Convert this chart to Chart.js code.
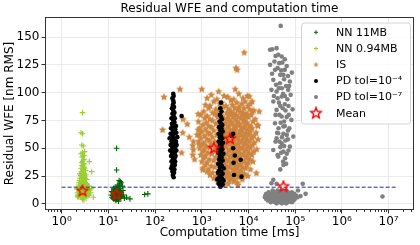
<!DOCTYPE html>
<html lang="en">
<head>
  <meta charset="UTF-8" />
  <title>Residual WFE and computation time</title>
  <script src="https://cdn.jsdelivr.net/npm/chart.js@4.4.0/dist/chart.umd.min.js"></script>
  <style>
    html, body { margin: 0; padding: 0; background: #fff; }
    #wrap { width: 420px; height: 245px; position: relative; }
  </style>
</head>
<body>
  <div id="wrap"><canvas id="myChart"></canvas></div>

  <script>
    // [computation time ms, residual WFE nm RMS]
    const nn11 = [
      [13,4.5],[14,4],[15,4.5],[16,4.2],[17,5],[12.5,5],[14,5.5],[15.5,5],[17,6],[18.5,5.5],
      [12,6],[13.5,6.5],[15,6.5],[16.5,7],[18,6.5],[19.5,7],[12.5,7.5],[14,8],[15.5,7.5],[17,8],
      [18.5,8],[13,9.5],[14.5,9.5],[16,10],[17.5,9.5],[19,10],[12.5,11],[14,11.5],[15.5,11],[17,12],
      [18.5,11.5],[13.5,13],[15,13.5],[16.5,13],[18,14],[14,15],[15.5,15.5],[17,16],[16,17],[17.5,18],
      [18,20],[17,21],[19,19],[15,30.5],[15,50],[21,8],[22,5],[24.5,6],[29,4.5],[60,8.5],
      [70,9],[20.5,12],[11.5,8],[13,14],[20,16],[11.8,11],[14.5,3],[16.5,2.5]
    ];
    const nnSmall = [
      [2.6,7],[2.9,6],[3.1,6.5],[2.5,6],[2.7,6],[3.0,6.5],[3.3,7],[2.4,7.5],[2.8,8],[3.1,8.5],
      [2.6,9.5],[2.9,10],[3.3,10],[2.5,11.5],[2.7,12],[3.0,12.5],[3.2,13],[2.3,13],[2.6,14],[2.8,14.5],
      [3.1,15],[3.5,13.5],[2.5,16],[2.7,16.5],[3.0,17],[2.9,18.5],[2.6,19],[3.2,19.5],[2.8,20.5],[3.0,21.5],
      [2.7,22.5],[2.9,23.5],[3.1,24.5],[2.6,25],[2.8,26],[3.0,27],[2.7,28],[2.9,29.5],[2.8,31],[3.0,33],
      [2.7,34.5],[2.9,36],[2.8,38],[3.0,40],[2.9,43],[2.8,46],[3.1,47],[2.7,53],[2.9,52],[2.6,64],
      [2.8,63],[2.8,82],[3.9,38],[4.4,29],[4.4,14],[4.75,6],[2.1,13.5],[4.0,13],[3.6,9],[2.2,8],
      [3.4,22],[3.6,17],[2.4,21],[3.3,26],[2.5,7.5],[3.4,7],[2.2,7],[3.8,7.5],[2.45,27],[3.25,30],
      [2.2,10],[3.6,12],[3.8,16],[2.3,17],[3.5,7],[2.25,6],[3.7,11],[2.35,15],[3.45,18],
      [2.35,9],[2.55,10.5],[2.75,9],[2.95,11.5],[3.2,11],[3.4,12],[2.45,14],[2.65,15.5],[2.95,15],[3.25,16],
      [2.35,19],[2.55,18],[2.85,17.5],[3.05,19],[2.45,23],[2.65,21],[2.95,21],[3.2,23],[2.55,25.5],[2.85,24],
      [3.05,25.5],[2.65,29],[2.95,27.5],[3.1,32],[2.6,32],[2.85,34],[3.0,36],[2.65,37],[2.9,39.5],[3.05,43.5],
      [2.75,42],[2.6,45],[4.2,10],[3.9,8],[2.3,7],[2.7,10.5],[2.8,4],[3.0,3.5]
    ];
    const isPts = [
      [2300,101],[5200,103],[1600,98],[3000,97],[6200,99],[9500,97],
      [1300,95],[2100,94],[3600,96],[4800,94],[7600,95],
      [1800,92],[2700,91],[4200,93],[5600,91],[8500,92],[11000,90],
      [1200,89],[1500,88],[2400,90],[3300,88],[4500,89],[6300,87],[7200,90],[9800,88],
      [1400,86],[2000,85],[2900,87],[3800,85],[5100,86],[5900,84],[8000,86],[10500,85],[13000,84],
      [1100,83],[1700,82],[2300,84],[3400,82],[4300,83],[4900,81],[6700,83],[7700,82],[9200,81],[12000,83],
      [950,80],[1300,79],[1900,81],[2600,80],[3700,79],[4100,81],[5400,80],[6100,78],[7300,80],[8700,79],[11500,80],
      [1150,77],[1500,76],[2200,78],[3000,77],[3500,76],[4600,78],[5200,76],[6900,77],[8200,76],[10000,78],[14000,76],
      [850,74],[1250,73],[1700,75],[2500,74],[3200,73],[3900,75],[4400,73],[5700,74],[6400,72],[7800,74],[9300,73],[12500,74],
      [1050,71],[1400,70],[2000,72],[2800,71],[3600,70],[4200,72],[5000,70],[6000,71],[7100,69],[8600,71],[10800,70],[15500,71],
      [900,68],[1200,67],[1600,69],[2300,68],[3100,67],[3800,69],[4700,67],[5400,68],[6600,66],[8000,68],[9600,67],[12000,68],
      [1000,65],[1350,64],[1800,66],[2600,65],[3300,64],[4000,66],[4500,64],[5200,65],[6200,63],[7300,65],[8900,64],[11000,65],[14500,64],
      [800,62],[1150,61],[1500,63],[2100,62],[2900,61],[3500,63],[4300,61],[4900,62],[5800,60],[6900,62],[8300,61],[10200,62],[13000,61],
      [950,59],[1300,58],[1700,60],[2400,59],[3200,58],[3700,60],[4600,58],[5500,59],[6400,57],[7700,59],[9300,58],[11800,59],[16000,58],
      [850,56],[1100,55],[1450,57],[1900,56],[2700,55],[3400,57],[4100,55],[5000,56],[6000,54],[7100,56],[8600,55],[10500,56],[13500,55],
      [1000,53],[1250,52],[1600,54],[2200,53],[3000,52],[3600,54],[4400,52],[5300,53],[6500,51],[7900,53],[9800,52],[12200,53],
      [900,50],[1150,49],[1500,51],[2000,50],[2800,49],[3300,51],[4200,49],[5100,50],[6100,48],[7400,50],[9000,49],[11000,50],[15000,49],
      [1050,47],[1350,46],[1800,48],[2500,47],[3100,46],[3800,48],[4700,46],[5700,47],[6800,45],[8200,47],[10200,46],[13000,47],
      [950,44],[1200,43],[1650,45],[2300,44],[2900,43],[3500,45],[4300,43],[5200,44],[6300,42],[7700,44],[9400,43],[11800,44],
      [1100,41],[1450,40],[2000,42],[2700,41],[3300,40],[4000,42],[4900,40],[5900,41],[7200,39],[8800,41],[10800,40],
      [1000,38],[1300,37],[1800,39],[2400,38],[3100,37],[3700,39],[4500,37],[5500,38],[6700,36],[8100,38],[10000,37],[12500,38],
      [1200,35],[1600,34],[2200,36],[2900,35],[3500,34],[4200,36],[5100,34],[6200,35],[7500,33],[9200,35],
      [1050,32],[1400,31],[1900,33],[2600,32],[3300,31],[4000,33],[4800,31],[5800,32],[7000,30],[8700,32],[11000,31],
      [1300,29],[1700,28],[2400,30],[3100,29],[3800,28],[4600,30],[5500,28],[6600,29],[8200,27],
      [1500,26],[2100,25],[2800,27],[3500,26],[4300,25],[5200,27],[6300,25],[7800,26],[9700,25],
      [1800,23],[2600,22],[3300,24],[4100,23],[5000,22],[6000,24],[7400,22],
      [2200,20],[3000,19],[3900,21],[4800,20],[5800,19],
      [2900,17],[3700,18],[6000,17],
      [8100,136],[5400,122],[5750,120.5],[340,103],[1000,103],[155,96],[145,66.5],[840,80.7],[400,76],[490,71.6],
      [390,64],[540,60],[660,56],[840,66.5],[880,62],[370,46],[640,52.4],[660,48.6],[640,44],[880,53.6],
      [2090,80],[10400,96.5],[17000,83],[14800,27.6],[1050,30.6],[700,40],[12000,92],[16000,70]
    ];
    const pdLoose = [
      [250,24],[240,26],[255,28],[235,29],[260,31],[245,32],[230,34],[265,35],[250,36],[225,38],
      [270,38],[240,40],[260,41],[220,43],[275,43],[245,44],[230,46],[265,46],[210,48],[285,48],
      [250,49],[235,51],[270,51],[215,53],[290,53],[255,54],[225,56],[280,56],[245,57],[205,59],
      [265,59],[300,60],[235,61],[215,63],[255,63],[285,64],[240,66],[270,67],[220,68],[250,70],
      [280,70],[230,72],[260,73],[245,75],[225,77],[265,77],[250,79],[235,81],[260,82],[245,84],
      [230,86],[255,87],[240,89],[250,91],[245,93],[235,95],[250,97],[245,99],[370,79],[255,74],
      [238,71],[252,65],[232,58],[262,50],[242,37],[222,32],
      [2580,91],[2500,86],[2650,83],[2450,80],[2600,78],[2700,76],[2400,74],[2550,72],[2750,71],[2350,69],
      [2650,68],[2500,66],[2800,65],[2300,63],[2600,62],[2450,60],[2750,59],[2550,57],[2300,56],[2850,55],
      [2450,53],[2650,52],[2350,50],[2750,49],[2550,47],[2250,46],[2900,45],[2450,43],[2650,42],[2350,40],
      [2800,39],[2550,37],[2250,36],[2700,34],[2450,33],[2950,32],[2350,30],[2600,29],[2200,28],[2800,27],
      [2500,25],[2350,24],[2700,23],[2150,22],[2950,21],[2450,20],[2650,19],[2300,18],[2800,17.5],[2550,16],
      [2500,15.5],[4700,63],[4700,50],[5100,43.5],[6800,39.6],[4900,26],[7100,24.5],[4400,61],[4800,37]
    ];
    const pdTight = [
      [33000,12],[42000,12],[52000,12],[65000,12],
      [27000,10.5],[36000,10.5],[46000,10.5],[57000,10.5],[70000,10.5],[85000,10.5],
      [24000,9],[30000,9],[39000,9],[50000,9],[62000,9],[76000,9],[95000,9],
      [23000,7.5],[28000,7.5],[34000,7.5],[43000,7.5],[55000,7.5],[68000,7.5],[83000,7.5],[105000,7.5],
      [22500,6],[26000,6],[31000,6],[38000,6],[48000,6],[60000,6],[73000,6],[90000,6],[112000,6],
      [24000,4.5],[29000,4.5],[35000,4.5],[44000,4.5],[53000,4.5],[65000,4.5],[80000,4.5],[98000,4.5],
      [26000,3],[32000,3],[40000,3],[50000,3],[61000,3],[75000,3],[92000,3],
      [30000,1.5],[37000,1.5],[46000,1.5],[57000,1.5],[70000,1.5],[85000,1.5],
      [40000,0.5],[52000,0.5],[64000,0.5],
      [34000,21.6],[31000,18.6],[40000,18],[145000,18],[167000,9],[7400000,6.6],[115000,12],[130000,7],
      [49000,160],[32300,139],[29000,138.5],[43500,134],[51500,132.5],[45600,126.5],[60000,130],[29000,125],
      [37000,120.5],[60000,120.5],[56000,116],[34000,111.5],[47000,108.5],[77000,110],[71000,102.5],[40000,101],
      [31000,102.5],[51500,96.5],[34000,92],[60000,89.5],[40000,84.5],[51500,78.5],[83000,75.5],[37000,72.5],
      [56000,69.5],[43500,63.5],[66000,62],[40000,59],[51500,54.5],[77000,51.5],[34000,48.5],[56000,47],
      [43500,42.5],[56000,35],[91000,60.5],[70000,115],[64000,106],[45000,104],[55000,99],[68000,94],
      [42000,95],[48000,88],[62000,84],[73000,80],[46000,80],[58000,74],[44000,68],[70000,66],
      [52000,60],[62000,57],[48000,51],[66000,45],[38000,56],[80000,98],[36000,128],[48000,116],
      [40000,140],[55000,38],
      [38000,133],[53000,127],[42000,122],[66000,124],[50000,120],[58000,112],[39000,107],[74000,106],
      [52000,104],[60000,97],[45000,91],[72000,88],[54000,86],[38000,80],[66000,78],[49000,73],
      [60000,70],[75000,68],[41000,64],[56000,63],[70000,58],[46000,56],[58000,52],[72000,48],
      [42000,44],[61000,41],[50000,46],[64000,36],[48000,31],[85000,118],[32000,117],[35000,97],[88000,85]
    ];
    const means = [[15,8.5],[2.8,11.5],[4000,58.5],[1820,50],[56000,15.6]];
    const thresholdWfe = 15;
    const thresholdTime = [1, 1.5e7];

    const xTickValues = [1, 10, 100, 1e3, 1e4, 1e5, 1e6, 1e7];
    const xTickLabels = ['10⁰', '10¹', '10²', '10³', '10⁴', '10⁵', '10⁶', '10⁷'];
    const yTickValues = [0, 25, 50, 75, 100, 125, 150];

    const FONT = 'DejaVu Sans';
    Chart.defaults.font.family = FONT;
    Chart.defaults.color = '#000';

    // star marker drawn into a small canvas
    function makeStar(size, outer, inner, fill, stroke, lw) {
      const c = document.createElement('canvas');
      c.width = size; c.height = size;
      const g = c.getContext('2d');
      g.beginPath();
      for (let i = 0; i < 10; i++) {
        const r = i % 2 ? inner : outer;
        const a = -Math.PI / 2 + i * Math.PI / 5;
        const px = size / 2 + r * Math.cos(a), py = size / 2 + r * Math.sin(a);
        i ? g.lineTo(px, py) : g.moveTo(px, py);
      }
      g.closePath();
      if (fill) { g.fillStyle = fill; g.fill(); }
      if (stroke) { g.strokeStyle = stroke; g.lineWidth = lw; g.stroke(); }
      return c;
    }
    const meanStar = makeStar(14, 5.6, 2.4, null, '#ff0000', 1.4);
    const isStar = makeStar(10, 4.0, 1.9, '#cd853f', null, 0);
    const isStarLegend = makeStar(7, 2.9, 1.2, '#cd853f', null, 0);

    const pts = (arr) => arr.map(([x, y]) => ({ x, y }));

    const data = {
      datasets: [
        { label: 'NN 11MB', data: pts(nn11), pointStyle: 'cross', pointRadius: 2.8,
          borderColor: '#006400', backgroundColor: '#006400', pointBorderWidth: 1.1, order: 6 },
        { label: 'NN 0.94MB', data: pts(nnSmall), pointStyle: 'cross', pointRadius: 2.8,
          borderColor: '#9acd32', backgroundColor: '#9acd32', pointBorderWidth: 1.1, order: 5 },
        { label: 'IS', data: pts(isPts), pointStyle: isStar, order: 4 },
        { label: 'PD tol=10⁻⁴', data: pts(pdLoose), pointStyle: 'circle', pointRadius: 2.3,
          backgroundColor: '#000', borderColor: '#000', pointBorderWidth: 0, order: 3 },
        { label: 'PD tol=10⁻⁷', data: pts(pdTight), pointStyle: 'circle', pointRadius: 2.3,
          backgroundColor: '#808080', borderColor: '#808080', pointBorderWidth: 0, order: 2 },
        { type: 'line', label: 'threshold', data: thresholdTime.map(x => ({ x, y: thresholdWfe })),
          borderColor: '#2222cc', borderWidth: 1, borderDash: [4, 2], pointRadius: 0, fill: false, order: 1 },
        { label: 'Mean', data: pts(means), pointStyle: meanStar, order: 0 }
      ]
    };

    // frame, minor ticks, title and legend like matplotlib
    const decorate = {
      id: 'decorate',
      afterDatasetsDraw(chart) {
        const { ctx, chartArea: a, scales: { x } } = chart;
        ctx.save();
        ctx.strokeStyle = '#333';
        ctx.lineWidth = 1;
        ctx.beginPath();
        for (let n = -1; n <= 7; n++) {
          for (let k = 2; k <= 9; k++) {
            const v = k * Math.pow(10, n);
            if (v < x.min || v > x.max) continue;
            const px = Math.round(x.getPixelForValue(v)) + 0.5;
            ctx.moveTo(px, a.bottom); ctx.lineTo(px, a.bottom + 2);
          }
        }
        ctx.stroke();
        ctx.strokeRect(a.left + 0.5, a.top + 0.5, a.right - a.left - 1, a.bottom - a.top - 1);

        // title
        ctx.fillStyle = '#000';
        ctx.font = '12px "' + FONT + '"';
        ctx.textAlign = 'center';
        ctx.textBaseline = 'middle';
        ctx.fillText('Residual WFE and computation time', (a.left + a.right) / 2, 9);

        // legend
        const bx = 301, by = 22.5, bw = 109, bh = 101;
        ctx.beginPath();
        ctx.roundRect(bx + 0.5, by + 0.5, bw, bh, 3);
        ctx.fillStyle = 'rgba(255,255,255,0.85)';
        ctx.fill();
        ctx.strokeStyle = '#d4d4d4';
        ctx.stroke();
        ctx.font = '11px "' + FONT + '"';
        ctx.textAlign = 'left';
        const labels = ['NN 11MB', 'NN 0.94MB', 'IS', 'PD tol=10⁻⁴', 'PD tol=10⁻⁷', 'Mean'];
        labels.forEach((t, i) => {
          const cy = 32.3 + i * 16.2, cx = 316;
          ctx.lineWidth = 1;
          if (i < 2) {
            ctx.strokeStyle = i === 0 ? '#006400' : '#9acd32';
            ctx.beginPath();
            ctx.moveTo(cx - 2, cy); ctx.lineTo(cx + 2, cy);
            ctx.moveTo(cx, cy - 2); ctx.lineTo(cx, cy + 2);
            ctx.stroke();
          } else if (i === 2) {
            ctx.drawImage(isStarLegend, cx - 3.5, cy - 3.5);
          } else if (i < 5) {
            ctx.fillStyle = i === 3 ? '#000' : '#808080';
            ctx.beginPath(); ctx.arc(cx, cy, 2, 0, Math.PI * 2); ctx.fill();
          } else {
            ctx.drawImage(meanStar, cx - 7, cy - 7);
          }
          ctx.fillStyle = '#000';
          ctx.fillText(t, 336, cy + 0.5);
        });
        ctx.restore();
      }
    };

    const config = {
      type: 'scatter',
      data: data,
      options: {
        responsive: true,
        maintainAspectRatio: false,
        animation: false,
        events: [],
        layout: { padding: { top: 17, right: 6, left: 0, bottom: 0 } },
        plugins: { legend: { display: false }, tooltip: { enabled: false }, title: { display: false } },
        scales: {
          x: {
            type: 'logarithmic',
            min: 0.44, max: 3.5e7,
            afterBuildTicks: (s) => { s.ticks = xTickValues.map(v => ({ value: v })); },
            afterFit: (s) => { s.height = 35; },
            ticks: {
              autoSkip: false, maxRotation: 0, padding: 1,
              font: { size: 12 }, color: '#000',
              callback: (v) => xTickLabels[xTickValues.indexOf(v)] || ''
            },
            grid: { color: '#ebebeb', tickColor: '#333', tickLength: 3.5 },
            border: { display: false },
            title: { display: true, text: 'Computation time [ms]', font: { size: 12 }, color: '#000',
                     padding: { top: 0, bottom: 5 } }
          },
          y: {
            min: -5.5, max: 168,
            afterBuildTicks: (s) => { s.ticks = yTickValues.map(v => ({ value: v })); },
            afterFit: (s) => { s.width = 45; },
            ticks: { padding: 2, font: { size: 12 }, color: '#000' },
            grid: { color: '#ebebeb', tickColor: '#333', tickLength: 3.5 },
            border: { display: false },
            title: { display: true, text: 'Residual WFE [nm RMS]', font: { size: 12 }, color: '#000',
                     padding: { top: 3, bottom: 0 } }
          }
        }
      },
      plugins: [decorate]
    };

    const myChart = new Chart(document.getElementById('myChart'), config);
  </script>
</body>
</html>
